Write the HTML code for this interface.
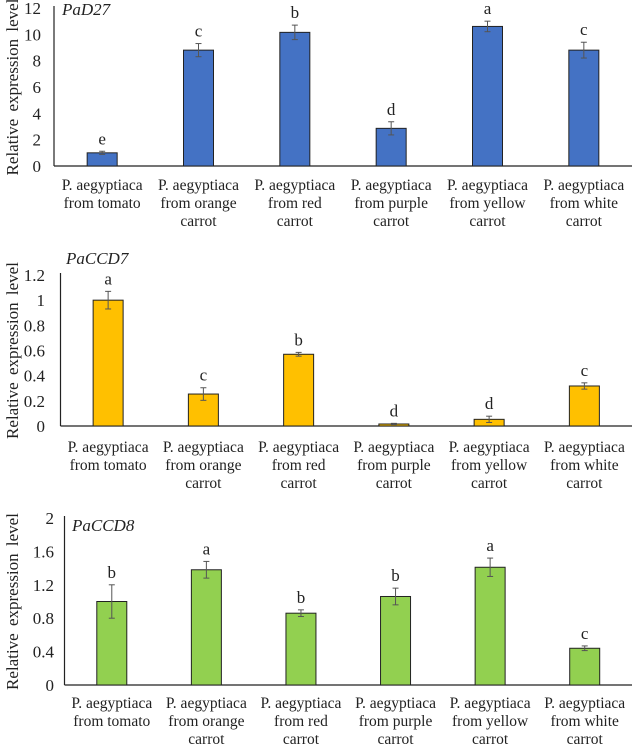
<!DOCTYPE html>
<html><head><meta charset="utf-8"><style>
html,body{margin:0;padding:0;background:#fff}
svg, svg text{font-family:"Liberation Serif","DejaVu Serif",serif}
</style></head><body>
<svg id="fig" width="632" height="750" viewBox="0 0 632 750" font-family="Liberation Serif, serif"></svg>
<script>
const categories = [["P. aegyptiaca","from tomato"],["P. aegyptiaca","from orange","carrot"],["P. aegyptiaca","from red","carrot"],["P. aegyptiaca","from purple","carrot"],["P. aegyptiaca","from yellow","carrot"],["P. aegyptiaca","from white","carrot"]];
const d27Values = [1.0, 8.8, 10.15, 2.86, 10.6, 8.8];
const d27Errors = [0.12, 0.5, 0.55, 0.5, 0.4, 0.6];
const d27Letters = ["e","c","b","d","a","c"];
const d27Ticks = [0,2,4,6,8,10,12];
const ccd7Values = [1.0, 0.254, 0.57, 0.016, 0.053, 0.318];
const ccd7Errors = [0.07, 0.05, 0.015, 0.005, 0.025, 0.025];
const ccd7Letters = ["a","c","b","d","d","c"];
const ccd7Ticks = [0,0.2,0.4,0.6,0.8,1,1.2];
const ccd8Values = [1.0, 1.38, 0.86, 1.06, 1.41, 0.44];
const ccd8Errors = [0.2, 0.1, 0.04, 0.1, 0.11, 0.028];
const ccd8Letters = ["b","a","b","b","a","c"];
const ccd8Ticks = [0,0.4,0.8,1.2,1.6,2];

const svg = document.getElementById('fig');
const NS = 'http://www.w3.org/2000/svg';
const FF = '"Liberation Serif", serif';
function mk(tag, attrs, parent, text){
  const e = document.createElementNS(NS, tag);
  for (const k in attrs) e.setAttribute(k, attrs[k]);
  if (text !== undefined) { e.textContent = text; e.style.fontFamily = FF; }
  parent.appendChild(e);
  return e;
}
function drawChart(cfg){
  const g = mk('g', {}, svg);
  
  
  const maxV = cfg.ticks[cfg.ticks.length-1];
  const y = v => cfg.base - (cfg.base - cfg.top) * v / maxV;
  const cw = (632 - cfg.ax) / categories.length;
  const x = i => cfg.ax + cw * (i + 0.5);
  const ya = mk('line', {x1:cfg.ax, x2:cfg.ax, y1:cfg.top-2, y2:cfg.base, stroke:'#222', 'stroke-width':1.2}, g);
  
  
  const xa = mk('line', {x1:cfg.ax, x2:632, y1:cfg.base, y2:cfg.base, stroke:'#222', 'stroke-width':1.2}, g);
  
  
  cfg.ticks.forEach(t => {
    const tl = mk('text', {x:cfg.tickRight, y:y(t)+6, 'text-anchor':'end', 'font-size':17, fill:'#222'}, g, String(t));
    
    
  });
  const yt = mk('text', {x:0, y:0, 'text-anchor':'middle', 'font-size':17, fill:'#222', 'word-spacing':'3px', transform:`translate(18 ${(cfg.top+cfg.base)/2}) rotate(-90)`}, g, 'Relative expression level');
  
  
  const tt = mk('text', {x:cfg.titleX, y:cfg.titleY, 'font-size':17, 'font-style':'italic', fill:'#222'}, g, cfg.title);
  
  
  cfg.values.forEach((v, i) => {
    const cx = x(i);
    const b = mk('rect', {x:cx-15, y:y(v), width:30, height:cfg.base-y(v), fill:cfg.color, stroke:'#222', 'stroke-width':1}, g);
    
    
    const e = cfg.errors[i];
    const eg = mk('g', {stroke:'#555', 'stroke-width':1}, g);
    
    
    mk('line', {x1:cx, x2:cx, y1:y(v+e), y2:y(v-e)}, eg);
    mk('line', {x1:cx-3, x2:cx+3, y1:y(v+e), y2:y(v+e)}, eg);
    mk('line', {x1:cx-3, x2:cx+3, y1:y(v-e), y2:y(v-e)}, eg);
    const lt = mk('text', {x:cx, y:y(v+e)-7, 'text-anchor':'middle', 'font-size':17, fill:'#222'}, g, cfg.letters[i]);
    
    
    categories[i].forEach((line, k) => {
      const cl = mk('text', {x:cx, y:cfg.labelY + k*18, 'text-anchor':'middle', 'font-size':15.5, fill:'#222'}, g, line);
      
      
    });
  });
}
drawChart({name:'chart-pad27', title:'PaD27', color:'#4472C4', values:d27Values, errors:d27Errors, letters:d27Letters, ticks:d27Ticks, ax:54, top:8, base:166, tickRight:41, titleX:62, titleY:15, labelY:190});
drawChart({name:'chart-paccd7', title:'PaCCD7', color:'#FFC000', values:ccd7Values, errors:ccd7Errors, letters:ccd7Letters, ticks:ccd7Ticks, ax:60.5, top:275, base:426, tickRight:45, titleX:66, titleY:264, labelY:452});
drawChart({name:'chart-paccd8', title:'PaCCD8', color:'#92D050', values:ccd8Values, errors:ccd8Errors, letters:ccd8Letters, ticks:ccd8Ticks, ax:64.5, top:518, base:685, tickRight:54, titleX:72, titleY:531, labelY:708});
</script>
</body></html>
